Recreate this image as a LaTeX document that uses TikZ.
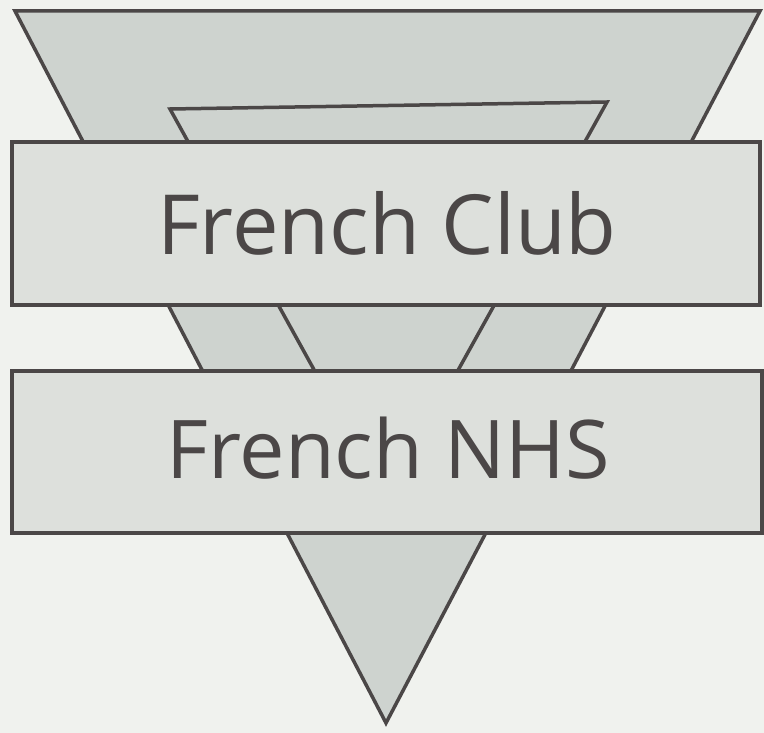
\documentclass[tikz,border=0pt]{standalone}
\usepackage{fontspec}
\setmainfont{Open Sans}
\definecolor{paper}{RGB}{240,242,238}
\definecolor{ink}{RGB}{75,71,71}
\definecolor{tri}{RGB}{206,211,207}
\definecolor{band}{RGB}{221,224,220}
\tikzset{
  shape line/.style={draw=ink, line width=3.5pt, line join=miter},
  banner/.style={shape line, fill=band},
  banner text/.style={text=ink, inner sep=0pt}
}
\begin{document}
\begin{tikzpicture}[x=1pt,y=-1pt]
\fill [paper] (0,0) rectangle (764,733);
\useasboundingbox (0,0) rectangle (764,733);

% the two triangles
\draw [shape line, fill=tri] (15,11) -- (760,11) -- (386,723) -- cycle;
\draw [shape line, fill=tri] (170,109) -- (607,102) -- (386,500) -- cycle;

% the two banners
\draw [banner] (12,142) rectangle (760,305);
\node [banner text, font=\fontsize{83}{95}\selectfont] (club) at (387,223) {French Club};
\draw [banner] (12,371) rectangle (762,533);
\node [banner text, font=\fontsize{81}{95}\selectfont] (nhs) at (388,448) {French NHS};

\end{tikzpicture}
\end{document}
